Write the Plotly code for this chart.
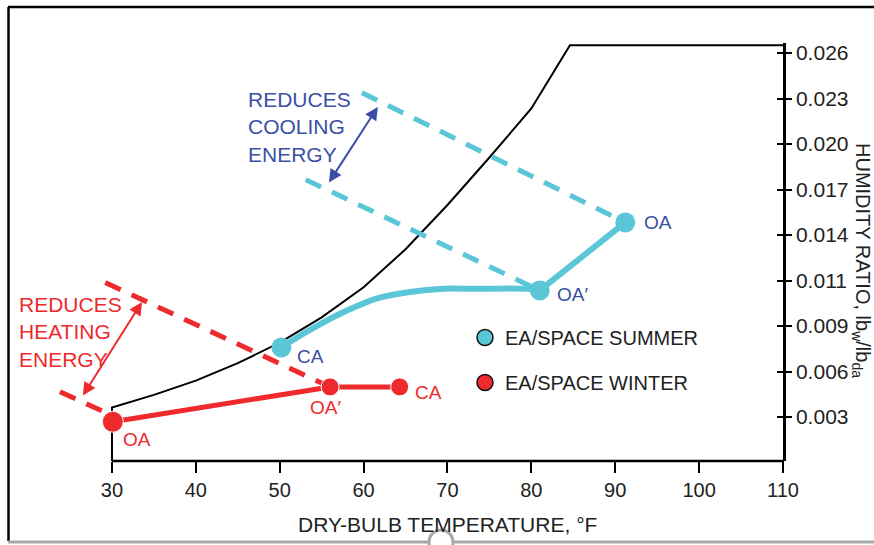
import plotly.graph_objects as go

# ---------------- data (dry-bulb °F, humidity ratio lb_w/lb_da) ----------------
Y_MIN, Y_MAX = 0.000219, 0.026637
X_MIN, X_MAX = 21.42, 110

sat_t = [30, 30, 35, 40, 45, 50, 55, 60, 65, 70, 75, 80, 84.6, 110]
sat_w = [Y_MIN, 0.0036, 0.0044, 0.0053, 0.0064, 0.0077, 0.0093, 0.0112, 0.0136, 0.0164, 0.0194, 0.0225, 0.0265, 0.0265]

summer_curve_t = [50.2, 53.6, 57.5, 61.6, 65.5, 69.5, 73.5, 79.5, 81.0]
summer_curve_w = [0.0074, 0.0085, 0.0096, 0.0105, 0.0109, 0.0111, 0.0111, 0.0111, 0.0110]

summer_labels = ["CA", "OA′", "OA"]
summer_t = [50.2, 81.0, 91.2]
summer_w = [0.0074, 0.0110, 0.0153]

winter_labels = ["OA", "OA′", "CA"]
winter_t = [30.1, 56.0, 64.3]
winter_w = [0.0027, 0.0049, 0.0049]

cool_upper_t, cool_upper_w = [59.8, 91.2], [0.0235, 0.0153]
cool_lower_t, cool_lower_w = [53.1, 81.0], [0.0180, 0.0110]
heat_upper_t, heat_upper_w = [29.2, 56.0], [0.0115, 0.0049]
heat_lower_t, heat_lower_w = [23.8, 30.0], [0.0046, 0.0031]

x_ticks = [30, 40, 50, 60, 70, 80, 90, 100, 110]
y_ticktext = ["0.003", "0.006", "0.009", "0.011", "0.014", "0.017", "0.020", "0.023", "0.026"]
y_tickvals = [0.003 + i * 0.002875 for i in range(len(y_ticktext))]

# ---------------- styles ----------------
CYAN = "#5BC6D8"
RED = "#EE2A2D"
BLUE = "#3B4FA5"
FONT = "Liberation Sans, Arial, sans-serif"

W, H = 874, 545
ML, MR, MT, MB = 40, 91, 43, 84
PW, PH = W - ML - MR, H - MT - MB


def px(x):
    return (x - ML) / PW


def py(y):
    return (H - MB - y) / PH


fig = go.Figure()

# saturation curve
fig.add_trace(go.Scatter(x=sat_t, y=sat_w, mode="lines", line=dict(color="black", width=2),
                         showlegend=False, hoverinfo="skip"))

# dashed lines
for t, w, c in [(cool_upper_t, cool_upper_w, CYAN), (cool_lower_t, cool_lower_w, CYAN),
                (heat_upper_t, heat_upper_w, RED), (heat_lower_t, heat_lower_w, RED)]:
    fig.add_trace(go.Scatter(x=t, y=w, mode="lines", line=dict(color=c, width=5, dash="17px,12px"),
                             showlegend=False, hoverinfo="skip"))

# summer process
fig.add_trace(go.Scatter(x=summer_curve_t, y=summer_curve_w, mode="lines",
                         line=dict(color=CYAN, width=6, shape="spline"), showlegend=False))
fig.add_trace(go.Scatter(x=summer_t[1:], y=summer_w[1:], mode="lines",
                         line=dict(color=CYAN, width=6), showlegend=False))
fig.add_trace(go.Scatter(x=summer_t, y=summer_w, mode="markers",
                         marker=dict(color=CYAN, size=20, opacity=1), showlegend=False))

# winter process
fig.add_trace(go.Scatter(x=winter_t, y=winter_w, mode="lines",
                         line=dict(color=RED, width=5), showlegend=False))
fig.add_trace(go.Scatter(x=winter_t, y=winter_w, mode="markers",
                         marker=dict(color=RED, size=[21, 18, 18], opacity=1), showlegend=False))

# legend entries
fig.add_trace(go.Scatter(x=[None], y=[None], mode="markers", name="EA/SPACE SUMMER", legendgroup="s",
                         marker=dict(color=CYAN, size=16, line=dict(color="#111", width=1.5))))
fig.add_trace(go.Scatter(x=[None], y=[None], mode="markers", name="EA/SPACE WINTER", legendgroup="w",
                         marker=dict(color=RED, size=16, line=dict(color="#111", width=1.5))))

# overlay axis for inward tick halves
fig.add_trace(go.Scatter(x=[None], y=[None], yaxis="y2", showlegend=False))

ann = []
# point labels
s_off = {"CA": (14, -9), "OA′": (15, -4), "OA": (17, 0)}
for lab, t, w in zip(summer_labels, summer_t, summer_w):
    dx, dy = s_off[lab]
    ann.append(dict(x=t, y=w, text=lab, showarrow=False, xanchor="left", xshift=dx, yshift=dy,
                    font=dict(color=BLUE, size=19, family=FONT)))
w_off = {"OA": (8, -18), "OA′": (-22, -21), "CA": (13, -6)}
for lab, t, w in zip(winter_labels, winter_t, winter_w):
    dx, dy = w_off[lab]
    ann.append(dict(x=t, y=w, text=lab, showarrow=False, xanchor="left", xshift=dx, yshift=dy,
                    font=dict(color=RED, size=19, family=FONT)))

ann.append(dict(x=46.0, y=0.02133, text="REDUCES<br>COOLING<br>ENERGY", showarrow=False,
                xanchor="left", yanchor="middle", align="left",
                font=dict(color=BLUE, size=21, family=FONT)))
ann.append(dict(x=px(17), y=py(332), xref="paper", yref="paper", text="REDUCES<br>HEATING<br>ENERGY",
                showarrow=False, xanchor="left", yanchor="middle", align="left",
                font=dict(color=RED, size=21, family=FONT)))

# double-headed arrows
ann.append(dict(x=61.7, y=0.0226, ax=55.75, ay=0.01773, axref="x", ayref="y", xref="x", yref="y",
                text="", showarrow=True, arrowhead=2, startarrowhead=2, arrowside="end+start",
                arrowsize=1.3, startarrowsize=1.3, arrowwidth=2, arrowcolor=BLUE))
ann.append(dict(x=33.58, y=0.01027, ax=26.42, ay=0.00426, axref="x", ayref="y", xref="x", yref="y",
                text="", showarrow=True, arrowhead=2, startarrowhead=2, arrowside="end+start",
                arrowsize=1.3, startarrowsize=1.3, arrowwidth=2, arrowcolor=RED))

# axis titles
ann.append(dict(x=70, y=py(524), xref="x", yref="paper", text="DRY-BULB TEMPERATURE, °F",
                showarrow=False, xanchor="center", yanchor="middle",
                font=dict(color="#222", size=21, family=FONT)))
ann.append(dict(x=px(862), y=py(261), xref="paper", yref="paper",
                text="HUMIDITY RATIO, lb<sub>w</sub>/lb<sub>da</sub>", textangle=90,
                showarrow=False, xanchor="center", yanchor="middle",
                font=dict(color="#222", size=20, family=FONT)))

shapes = [
    # x-axis line from 30 to 110
    dict(type="line", xref="x", yref="paper", x0=30, x1=110, y0=0, y1=0,
         line=dict(color="black", width=2.5)),
    # right axis extension below the x axis
    dict(type="line", xref="paper", yref="paper", x0=1, x1=1, y0=0, y1=py(472),
         line=dict(color="black", width=2)),
    # frame
    dict(type="line", xref="paper", yref="paper", x0=px(8), x1=px(880), y0=py(7), y1=py(7),
         line=dict(color="black", width=2.5)),
    dict(type="line", xref="paper", yref="paper", x0=px(8.5), x1=px(8.5), y0=py(7), y1=py(541),
         line=dict(color="black", width=2.5)),
    dict(type="line", xref="paper", yref="paper", x0=px(8), x1=px(880), y0=py(542), y1=py(542),
         line=dict(color="#A8A8A8", width=3)),
    dict(type="circle", xref="paper", yref="paper", x0=px(429), x1=px(453), y0=py(530), y1=py(554),
         line=dict(color="#A8A8A8", width=3), fillcolor="white"),
]

fig.update_layout(
    width=W, height=H,
    margin=dict(l=ML, r=MR, t=MT, b=MB),
    paper_bgcolor="white", plot_bgcolor="white",
    font=dict(family=FONT, color="#222"),
    showlegend=True,
    legend=dict(x=px(465), y=py(318), xanchor="left", yanchor="top",
                font=dict(size=20, color="#222", family=FONT),
                tracegroupgap=16, bgcolor="rgba(0,0,0,0)", itemsizing="trace"),
    xaxis=dict(range=[X_MIN, X_MAX], tickvals=x_ticks, ticks="outside", ticklen=11, tickwidth=2,
               tickcolor="black", showline=False, showgrid=False, zeroline=False,
               tickfont=dict(size=20, color="#222", family=FONT)),
    yaxis=dict(range=[Y_MIN, Y_MAX], side="right", tickvals=y_tickvals, ticktext=y_ticktext,
               ticks="outside", ticklen=6, tickwidth=2, tickcolor="black",
               showline=True, linecolor="black", linewidth=2.5, showgrid=False, zeroline=False,
               tickfont=dict(size=21, color="#222", family=FONT)),
    yaxis2=dict(range=[Y_MIN, Y_MAX], overlaying="y", side="right", tickvals=y_tickvals,
                ticks="inside", ticklen=6, tickwidth=2, tickcolor="black", showticklabels=False,
                showline=False, showgrid=False, zeroline=False),
    annotations=ann,
    shapes=shapes,
)

fig.write_html("out.html", config={"displayModeBar": False},
               post_script="document.body.style.margin='0';")
